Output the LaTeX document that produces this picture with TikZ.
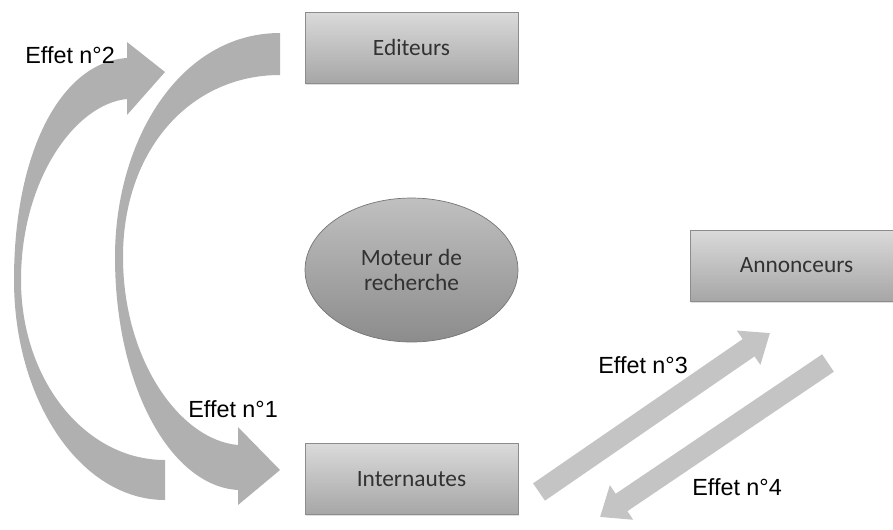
\documentclass[tikz,border=0pt]{standalone}
\usepackage{fontspec}
\setmainfont{Carlito}
\newfontfamily\effetfont{Liberation Sans}
\usepackage{tikz}
\usetikzlibrary{positioning}
\usetikzlibrary{arrows.meta}
\usetikzlibrary{shadows}
\usetikzlibrary{shapes.geometric}
\definecolor{boxtop}{RGB}{218,218,218}
\definecolor{boxbot}{RGB}{166,166,166}
\definecolor{boxline}{RGB}{140,140,140}
\definecolor{ovaltop}{RGB}{192,192,192}
\definecolor{ovalbot}{RGB}{140,140,140}
\definecolor{ovalline}{RGB}{118,118,118}
\definecolor{txtgray}{RGB}{50,50,50}
\definecolor{courbegray}{RGB}{176,176,176}
\definecolor{droitegray}{RGB}{196,196,196}

\begin{document}
\begin{tikzpicture}[x=0.02cm,y=-0.02cm,
  acteur/.style={draw=boxline,line width=0.4pt,top color=boxtop,bottom color=boxbot,minimum width=4.26cm,minimum height=1.42cm,inner sep=0pt,text=txtgray,font=\fontsize{13.3}{14.5}\selectfont,drop shadow={opacity=0.25,shadow xshift=0.6pt,shadow yshift=-1pt}},
  moteur/.style={ellipse,draw=ovalline,line width=0.4pt,top color=ovaltop,bottom color=ovalbot,minimum width=4.26cm,minimum height=2.88cm,inner sep=0pt,align=center,text=txtgray,font=\fontsize{13.3}{14.5}\selectfont},
  effet/.style={inner sep=0pt,anchor=base west,font=\effetfont\fontsize{13.3}{15}\selectfont},
  courbe/.style={fill=courbegray},
  fleche/.style={line width=0.42cm,draw=droitegray,-{Triangle[width=0.8cm,length=0.52cm]}}]
  \useasboundingbox (0,0) rectangle (893,529);
  \node[acteur] (edit) at (411.5,47.5) {Editeurs};
  \node[acteur,below=7.2cm of edit] (inter) {Internautes};
  \node[moteur] (moteur) at (411.5,270) {Moteur de\\recherche};
  \node[acteur] (annon) at (796.5,265.5) {Annonceurs};
  \coordinate (t3) at (539,492);
  \coordinate (h3) at (770,333);
  \coordinate (t4) at (828,363);
  \coordinate (h4) at (600,517);
  \fill[courbe] (165,500) .. controls (81,500) and (14,401) .. (14,280) .. controls (14,150) and (62,62) .. (127,58) -- (127,42) -- (165,72) -- (127,115) -- (127,99) .. controls (75,104) and (21,180) .. (21,280) .. controls (21,380) and (85,460) .. (165,460) -- cycle;
  \fill[courbe] (280,33) .. controls (180,33) and (115,140) .. (115,257) .. controls (115,385) and (170,486) .. (238,490) -- (238,505) -- (280,470) -- (238,427) -- (238,445) .. controls (180,440) and (123,360) .. (123,257) .. controls (123,150) and (190,75) .. (280,75) -- cycle;
  \draw[fleche] (t3) -- (h3);
  \draw[fleche] (t4) -- (h4);
  \node[effet] (e2) at (25,63) {Effet n°2};
  \node[effet] (e1) at (188,417) {Effet n°1};
  \node[effet] (e3) at (598,373) {Effet n°3};
  \node[effet] (e4) at (692,495) {Effet n°4};
\end{tikzpicture}
\end{document}
